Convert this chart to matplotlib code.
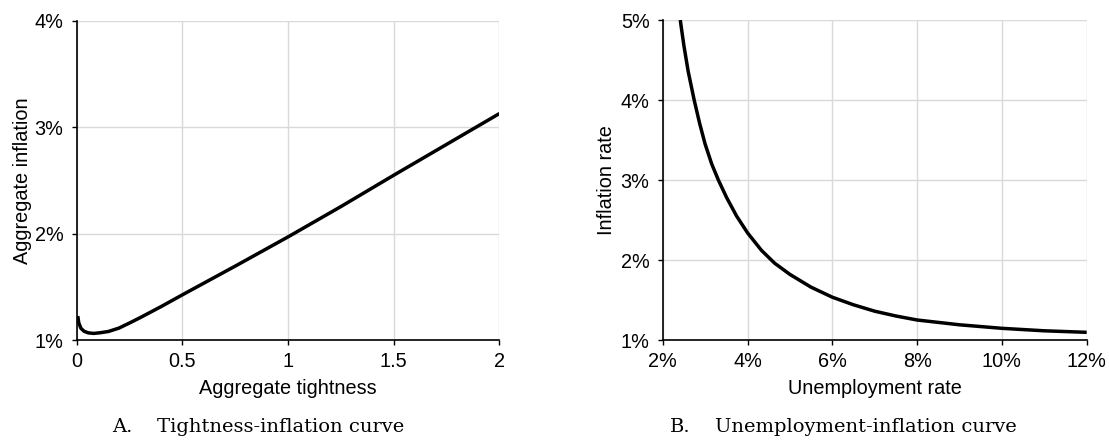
import matplotlib
matplotlib.use("Agg")
import matplotlib.pyplot as plt

# ---- data ----
tightness = [0.005, 0.01, 0.02, 0.035, 0.055, 0.08, 0.11, 0.15, 0.2, 0.25, 0.3,
             0.4, 0.5, 0.75, 1.0, 1.25, 1.5, 1.75, 2.0]
agg_inflation = [1.225, 1.16, 1.11, 1.082, 1.067, 1.062, 1.068, 1.08, 1.112,
                 1.16, 1.21, 1.315, 1.425, 1.695, 1.97, 2.255, 2.55, 2.84, 3.13]

unemployment = [2.414, 2.5, 2.6, 2.742, 2.87, 3.0, 3.156, 3.3125, 3.508,
                3.742, 4.0, 4.33, 4.64, 5.0, 5.5, 6.0, 6.5, 7.0, 7.5, 8.0,
                9.0, 10.0, 11.0, 12.0]
inflation_rate = [5.0, 4.68, 4.36, 4.0, 3.71, 3.45, 3.20, 3.0, 2.78,
                  2.55, 2.34, 2.12, 1.96, 1.82, 1.66, 1.535, 1.44, 1.36, 1.30, 1.25,
                  1.19, 1.146, 1.115, 1.096]

a_xticks = [0, 0.5, 1, 1.5, 2]
a_xticklabels = ["0", "0.5", "1", "1.5", "2"]
a_yticks = [1, 2, 3, 4]
a_yticklabels = ["1%", "2%", "3%", "4%"]

b_xticks = [2, 4, 6, 8, 10, 12]
b_xticklabels = ["2%", "4%", "6%", "8%", "10%", "12%"]
b_yticks = [1, 2, 3, 4, 5]
b_yticklabels = ["1%", "2%", "3%", "4%", "5%"]

W, H = 1109, 440
plt.rcParams['font.family'] = ['Liberation Sans', 'DejaVu Sans']
fig = plt.figure(figsize=(W / 100, H / 100), dpi=100)

def px_axes(x0, x1, ytop, ybot):
    return fig.add_axes([x0 / W, (H - ybot) / H, (x1 - x0) / W, (ybot - ytop) / H])

axA = px_axes(76.7, 499.5, 21, 340)
axB = px_axes(662.7, 1086.7, 20, 340)

FS = 14.3

def style(ax, xt, xtl, yt, ytl, xlim, ylim, xlabel, ylabel, ylab_x):
    ax.set_xlim(*xlim)
    ax.set_ylim(*ylim)
    ax.set_xticks(xt)
    ax.set_xticklabels(xtl)
    ax.set_yticks(yt)
    ax.set_yticklabels(ytl)
    for s in ("top", "right"):
        ax.spines[s].set_visible(False)
    for s in ("left", "bottom"):
        ax.spines[s].set_linewidth(1.2)
        ax.spines[s].set_color("black")
    ax.grid(True, color="#d9d9d9", linewidth=1.0)
    ax.set_axisbelow(True)
    ax.tick_params(axis="both", direction="out", length=3.5, width=1.0,
                   labelsize=FS, colors="black")
    ax.tick_params(axis="x", pad=5)
    ax.tick_params(axis="y", pad=6)
    ax.set_xlabel(xlabel, fontsize=FS)
    ax.set_ylabel(ylabel, fontsize=FS)
    ax.xaxis.set_label_coords(0.5, -0.1505)
    ax.xaxis.label.set_va("center")
    ax.yaxis.set_label_coords(ylab_x, 0.5)
    ax.yaxis.label.set_va("center")

axA.plot(tightness, agg_inflation, color="black", linewidth=2.5,
         solid_capstyle="butt", solid_joinstyle="round")
style(axA, a_xticks, a_xticklabels, a_yticks, a_yticklabels, (0, 2), (1, 4),
      "Aggregate tightness", "Aggregate inflation", (23 - 76.7) / 422.8)

axB.plot(unemployment, inflation_rate, color="black", linewidth=2.5,
         solid_capstyle="butt", solid_joinstyle="round")
style(axB, b_xticks, b_xticklabels, b_yticks, b_yticklabels, (2, 12), (1, 5),
      "Unemployment rate", "Inflation rate", (606 - 662.7) / 424.0)

cap_kw = dict(fontsize=14, family=["DejaVu Serif"], va="center", ha="left")
cy = (H - 427) / H
fig.text(112 / W, cy, "A.", **cap_kw)
fig.text(157 / W, cy, "Tightness-inflation curve", **cap_kw)
fig.text(670 / W, cy, "B.", **cap_kw)
fig.text(715 / W, cy, "Unemployment-inflation curve", **cap_kw)

fig.savefig("out.png", dpi=100)
